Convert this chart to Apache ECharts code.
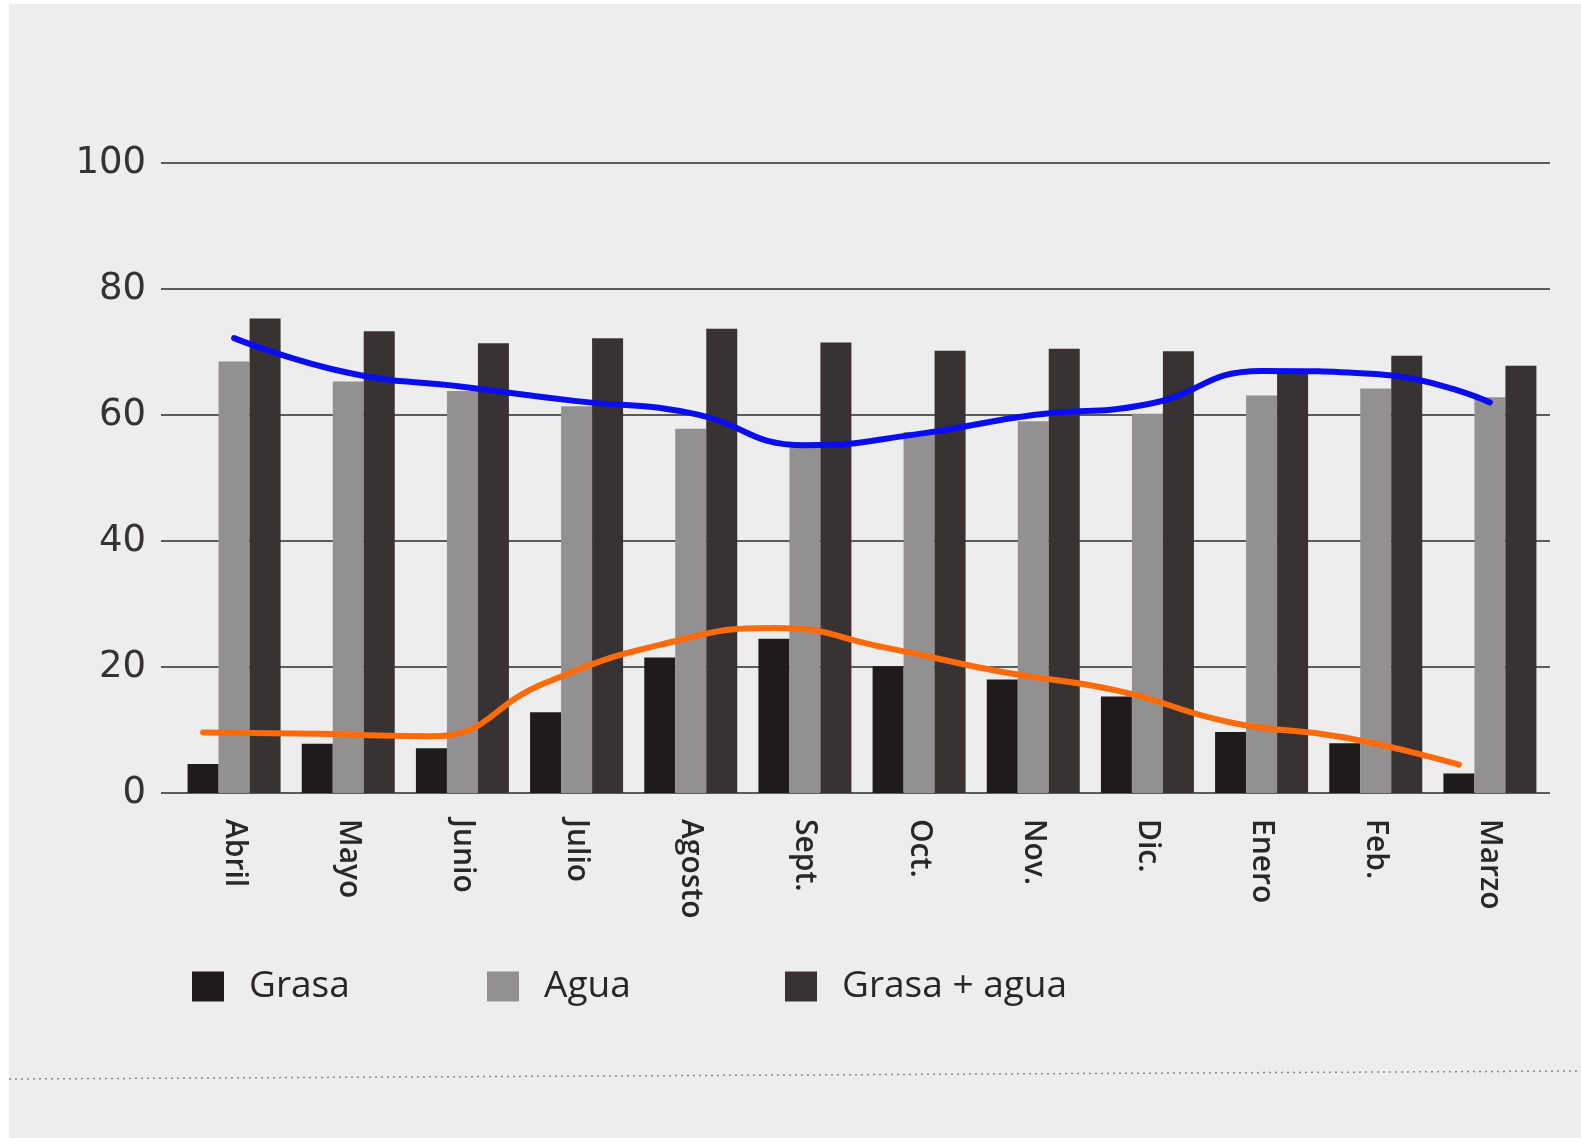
<!DOCTYPE html>
<html>
<head>
  <meta charset="utf-8">
  <title>Grasa y agua</title>
  <style>
    html, body, #main { margin: 0; padding: 0; width: 1581px; height: 1138px; background: #fff; }
  </style>
  <script src="https://cdn.jsdelivr.net/npm/echarts@6/dist/echarts.min.js"></script>
</head>
<body>
  <div id="main"></div>
  <script>
    // months, April to March
    var months = ['Abril', 'Mayo', 'Junio', 'Julio', 'Agosto', 'Sept.', 'Oct.', 'Nov.', 'Dic.', 'Enero', 'Feb.', 'Marzo'];
    var yTicks = [0, 20, 40, 60, 80, 100];

    var grasa = [4.6, 7.8, 7.1, 12.8, 21.5, 24.5, 20.1, 18.0, 15.3, 9.7, 7.9, 3.1];
    var agua = [68.5, 65.3, 63.8, 61.4, 57.8, 55.0, 57.3, 59.0, 60.2, 63.1, 64.2, 62.8];
    var grasaAgua = [75.3, 73.3, 71.4, 72.2, 73.7, 71.5, 70.2, 70.5, 70.1, 67.2, 69.4, 67.8];

    // hand drawn trend lines over the bars
    var blueTrend = [72.2, 66.7, 64.5, 62.2, 60.3, 55.2, 57.0, 60.0, 61.7, 67.0, 66.5, 62.0];
    var orangeTrend = [9.6, 9.4, 9.0, 17.5, 23.5, 26.2, 23.0, 19.2, 16.3, 11.2, 8.8, 4.5];

    var W = 1581, H = 1138;
    var barLeft = 177, barRight = 34, gridTop = 163, gridBottom = 345;
    var barWidth = 31;
    var band = (W - barLeft - barRight) / months.length;
    var grasaShift = -barWidth / band;

    var chart = echarts.init(document.getElementById('main'), null, { renderer: 'canvas' });

    function legendAt(name, left) {
      return {
        data: [{ name: name, icon: 'rect' }],
        left: left,
        top: 968,
        padding: 0,
        orient: 'horizontal',
        itemWidth: 32,
        itemHeight: 30,
        selectedMode: false,
        textStyle: {
          fontFamily: 'Open Sans',
          fontSize: 37,
          fontWeight: 500,
          color: '#2a2628',
          padding: [0, 0, 0, 20]
        }
      };
    }

    var option = {
      backgroundColor: '#ffffff',
      animation: false,
      graphic: [
        { type: 'rect', z: -100, shape: { x: 9, y: 4, width: W, height: H }, style: { fill: '#eeeded' } },
        { type: 'line', z: -90, shape: { x1: 9, y1: 1079, x2: W, y2: 1071 }, style: { stroke: '#8a8486', lineWidth: 1.5, lineDash: [2, 4] } }
      ],
      legend: [
        legendAt('Grasa', 192),
        legendAt('Agua', 487),
        legendAt('Grasa + agua', 785)
      ],
      grid: [
        { left: 161, right: 31, top: gridTop, bottom: gridBottom },
        { left: barLeft, right: barRight, top: gridTop, bottom: gridBottom }
      ],
      xAxis: [
        { gridIndex: 0, type: 'value', min: 0, max: 1, show: false },
        {
          gridIndex: 1,
          type: 'category',
          data: months,
          axisLine: { show: false },
          axisTick: { show: false },
          axisLabel: {
            rotate: -90,
            margin: 26,
            fontFamily: 'Open Sans',
            fontSize: 30,
            fontWeight: 600,
            color: '#2a2728',
            interval: 0
          }
        },
        { gridIndex: 1, type: 'value', min: -0.5, max: months.length - 0.5, show: false }
      ],
      yAxis: [
        {
          gridIndex: 0,
          type: 'value',
          min: yTicks[0],
          max: yTicks[yTicks.length - 1],
          interval: yTicks[1] - yTicks[0],
          axisLine: { show: false },
          axisTick: { show: false },
          axisLabel: {
            margin: 15,
            fontFamily: 'DejaVu Sans',
            fontSize: 37,
            color: '#363233'
          },
          splitLine: { show: true, lineStyle: { color: '#2c2829', width: 1.6 } }
        },
        { gridIndex: 1, type: 'value', min: 0, max: 100, show: false }
      ],
      series: [
        {
          name: 'Grasa', type: 'bar', xAxisIndex: 1, yAxisIndex: 1,
          barWidth: barWidth, barGap: '0%', data: grasa,
          itemStyle: { color: '#1f1a1c' }
        },
        {
          name: 'Agua', type: 'bar', xAxisIndex: 1, yAxisIndex: 1,
          barWidth: barWidth, barGap: '0%', data: agua,
          itemStyle: { color: '#939091' }
        },
        {
          name: 'Grasa + agua', type: 'bar', xAxisIndex: 1, yAxisIndex: 1,
          barWidth: barWidth, barGap: '0%', data: grasaAgua,
          itemStyle: { color: '#383233' }
        },
        {
          name: 'azul', type: 'line', xAxisIndex: 2, yAxisIndex: 1, z: 5,
          smooth: 0.5, symbol: 'none',
          data: blueTrend.map(function (v, i) { return [i, v]; }),
          lineStyle: { color: '#0a0cf2', width: 6, cap: 'round' }
        },
        {
          name: 'naranja', type: 'line', xAxisIndex: 2, yAxisIndex: 1, z: 5,
          smooth: 0.5, symbol: 'none',
          data: orangeTrend.map(function (v, i) { return [i + grasaShift, v]; }),
          lineStyle: { color: '#ff6a0a', width: 6, cap: 'round' }
        }
      ]
    };

    chart.setOption(option);
  </script>
</body>
</html>
